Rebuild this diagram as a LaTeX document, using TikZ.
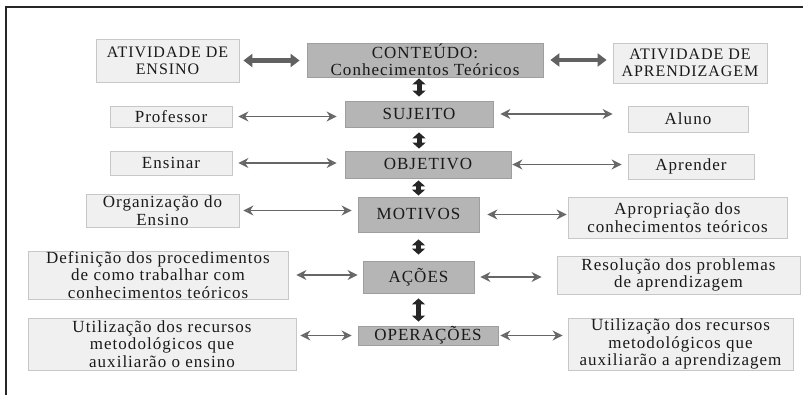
\documentclass[tikz,border=0pt]{standalone}
\usepackage{fontspec}
\setmainfont[LetterSpace=6]{Liberation Serif}
\usetikzlibrary{arrows.meta}

\begin{document}
\begin{tikzpicture}[x=1pt,y=-1pt,
    caixa/.style={draw=black!22, fill=black!6, line width=0.8pt, align=center,
      inner sep=0pt, text=black!90, font=\fontsize{17}{17.5}\selectfont},
    central/.style={caixa, draw=black!38, fill=black!29},
    topo/.style={font=\fontsize{16}{17}\selectfont},
    liga/.style={draw=black!60, line width=1.8pt,
      {Stealth[open,length=10pt,width=10pt]}-{Stealth[open,length=10pt,width=10pt]}},
    grossa/.style={draw=black!62, line width=4.5pt,
      {Triangle[length=9pt,width=13pt]}-{Triangle[length=9pt,width=13pt]}},
    vertical/.style={draw=black!85, line width=5pt,
      {Triangle[length=6pt,width=13pt]}-{Triangle[length=6pt,width=13pt]}}]
  \useasboundingbox (0,0) rectangle (803,395);
  % moldura
  \draw [line width=2pt, black!85] (6,395) -- (6,7) -- (803,7);

  % coluna central
  \node [central, minimum width=236pt, minimum height=34pt] (conteudo) at (425,60)
    {CONTEÚDO:\\Conhecimentos Teóricos};
  \node [central, minimum width=148pt, minimum height=26pt] (sujeito) at (419,114) {SUJEITO};
  \node [central, minimum width=166pt, minimum height=27pt] (objetivo) at (428,164.5) {OBJETIVO};
  \node [central, minimum width=121pt, minimum height=35pt] (motivos) at (418.5,214.5) {MOTIVOS};
  \node [central, minimum width=111pt, minimum height=32pt] (acoes) at (418.5,277) {AÇÕES};
  \node [central, minimum width=140pt, minimum height=19pt] (operacoes) at (428,335.5) {OPERAÇÕES};

  % lado do ensino
  \node [caixa, topo, minimum width=143pt, minimum height=43pt] (ensino) at (167.5,60.5)
    {ATIVIDADE DE\\ENSINO};
  \node [caixa, minimum width=122pt, minimum height=21pt] (professor) at (171,116.5) {Professor};
  \node [caixa, minimum width=122pt, minimum height=24pt] (ensinar) at (171,163) {Ensinar};
  \node [caixa, minimum width=153pt, minimum height=33pt] (organizacao) at (162.5,210.5)
    {Organização do\\Ensino};
  \node [caixa, minimum width=260pt, minimum height=48pt] (definicao) at (158,275)
    {Definição dos procedimentos\\de como trabalhar com\\conhecimentos teóricos};
  \node [caixa, minimum width=268pt, minimum height=52pt] (recensino) at (162,344)
    {Utilização dos recursos\\metodológicos que\\auxiliarão o ensino};

  % lado da aprendizagem
  \node [caixa, topo, minimum width=154pt, minimum height=40pt] (aprendizagem) at (690,63)
    {ATIVIDADE DE\\APRENDIZAGEM};
  \node [caixa, minimum width=120pt, minimum height=26pt] (aluno) at (688,119) {Aluno};
  \node [caixa, minimum width=126pt, minimum height=25pt] (aprender) at (691,166.5) {Aprender};
  \node [caixa, minimum width=219pt, minimum height=41pt] (apropriacao) at (677.5,217.5)
    {Apropriação dos\\conhecimentos teóricos};
  \node [caixa, minimum width=243pt, minimum height=38pt] (resolucao) at (678.5,275)
    {Resolução dos problemas\\de aprendizagem};
  \node [caixa, minimum width=225pt, minimum height=52pt] (recaprend) at (680.5,344)
    {Utilização dos recursos\\metodológicos que\\auxiliarão a aprendizagem};

  % setas largas do topo
  \draw [grossa, shorten <=4pt, shorten >=7pt] (ensino.east) -- (ensino.east -| conteudo.west);
  \draw [grossa, shorten <=7pt, shorten >=6pt] (conteudo.east) -- (conteudo.east -| aprendizagem.west);

  % setas finas
  \draw [liga, shorten <=6pt, shorten >=8pt] (professor.east) -- (professor.east -| sujeito.west);
  \draw [liga, shorten <=7pt, shorten >=15pt] (sujeito.east) -- (sujeito.east -| aluno.west);
  \draw [liga, shorten <=6pt, shorten >=8pt] (ensinar.east) -- (ensinar.east -| objetivo.west);
  \draw [liga, shorten <=1pt, shorten >=6pt] (objetivo.east) -- (objetivo.east -| aprender.west);
  \draw [liga, shorten <=4pt, shorten >=6pt] (organizacao.east) -- (organizacao.east -| motivos.west);
  \draw [liga, shorten <=8pt, shorten >=1pt] (motivos.east) -- (motivos.east -| apropriacao.west);
  \draw [liga, shorten <=8pt, shorten >=5pt] (definicao.east) -- (definicao.east -| acoes.west);
  \draw [liga, shorten <=6pt, shorten >=15pt] (acoes.east) -- (acoes.east -| resolucao.west);
  \draw [liga, shorten <=4pt, shorten >=6pt] (recensino.east |- operacoes.east) -- (operacoes.west);
  \draw [liga, shorten <=2pt, shorten >=5pt] (operacoes.east) -- (operacoes.east -| recaprend.west);

  % setas verticais
  \draw [vertical, shorten <=4pt, shorten >=1pt] (sujeito.north) -- (sujeito.north |- conteudo.south);
  \draw [vertical, shorten <=5pt, shorten >=2pt] (sujeito.south) -- (sujeito.south |- objetivo.north);
  \draw [vertical, shorten <=1pt, shorten >=2pt] (motivos.north) -- (motivos.north |- objetivo.south);
  \draw [vertical, shorten <=7pt, shorten >=6pt] (motivos.south) -- (motivos.south |- acoes.north);
  \draw [vertical, shorten <=5pt, shorten >=4pt] (acoes.south) -- (acoes.south |- operacoes.north);
\end{tikzpicture}
\end{document}
